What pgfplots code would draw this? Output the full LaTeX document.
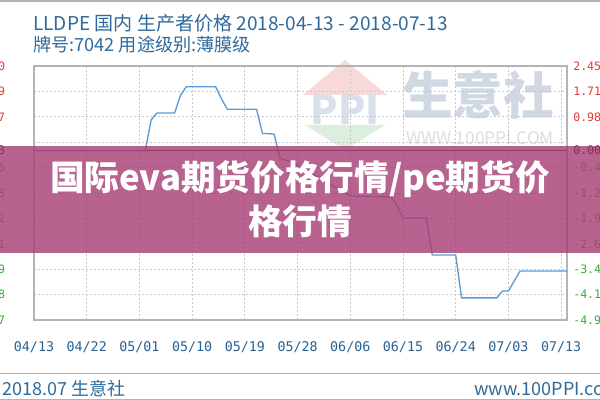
\documentclass[border=0pt]{standalone}
\usepackage{pgfplots}
\pgfplotsset{compat=1.18}
\usepackage{fontspec}
\setmainfont{Noto Sans CJK SC}
\newfontfamily\monofont{DejaVu Sans Mono}
\definecolor{tblue}{HTML}{2F6A9C}
\definecolor{lblue}{HTML}{2A6193}
\definecolor{framegray}{HTML}{B4B4B4}
\definecolor{gridgray}{HTML}{C8C8C8}
\definecolor{upred}{HTML}{E23B3B}
\definecolor{dngreen}{HTML}{3DAA3D}
\definecolor{serblue}{HTML}{5A9BD5}
\definecolor{banner}{HTML}{A73D73}
\definecolor{wmgray}{HTML}{D0D8E3}
\definecolor{wmppi}{HTML}{D9E0EC}
\definecolor{wmred}{HTML}{F7D9D9}
\definecolor{wmgreen}{HTML}{DCEFDF}

\pgfplotstableread{
x y
0 0
19 0
20 0.89
21 1.09
24 1.09
25 1.60
26 1.85
31 1.85
32 1.50
33 1.20
38 1.20
39 0.50
41 0.48
42 -0.22
44 -0.33
54 -1.31
61 -1.34
62 -1.60
63 -1.95
67 -1.95
68 -3.02
72 -3.02
73 -4.26
79 -4.26
80 -4.06
81 -4.06
83 -3.48
91 -3.48
}\pricedata

\begin{document}
\begin{tikzpicture}[x=0.75pt,y=0.75pt]
\useasboundingbox (0,0) rectangle (600,400);
\clip (0,0) rectangle (600,400);
\fill[white] (0,0) rectangle (600,400);

% header
\draw[framegray, line width=1.5pt] (0,399.2) -- (600,399.2);
\node[anchor=west, text=tblue, inner sep=0pt, font=\fontsize{14.3}{16}\selectfont] at (33,377) {LLDPE 国内 生产者价格 2018-04-13 - 2018-07-13};
\node[anchor=west, text=tblue, inner sep=0pt, font=\fontsize{13.6}{16}\selectfont] at (33,355) {牌号:7042 用途级别:薄膜级};

% watermark
\fill[wmred] (303,305) -- (345,340) -- (387,305) -- cycle;
\node[text=wmppi, font=\fontsize{30}{30}\selectfont\bfseries] at (345,290) {PPI};
\fill[wmgreen] (305,275) -- (385,275) -- (345,250) -- cycle;
\node[text=wmgray, font=\fontsize{38}{40}\selectfont\bfseries] at (478,305) {生意社};
\node[text=black!13, font=\fontsize{13}{13}\selectfont] at (480,262) {WWW.100PPI.COM};

\begin{axis}[
  at={(25.5pt,60pt)}, anchor=south west,
  scale only axis, width=399.75pt, height=190.5pt,
  xmin=0, xmax=91, ymin=-4.9, ymax=2.45,
  axis line style={draw=framegray, line width=0.8pt},
  major tick length=0pt,
  xtick={0,9,...,90},
  xticklabels={04/13,04/22,05/01,05/10,05/19,05/28,06/06,06/15,06/24,07/03,07/13},
  xticklabel style={font=\monofont\fontsize{10}{10}\selectfont, text=lblue, yshift=-13pt},
  ytick={-4.9,-4.165,-3.43,-2.695,-1.96,-1.225,-0.49,0,0.98,1.715,2.45},
  yticklabels={{\textcolor{dngreen}{-4.90}},{\textcolor{dngreen}{-4.16}},{\textcolor{dngreen}{-3.43}},{\textcolor{dngreen}{-2.69}},{\textcolor{dngreen}{-1.96}},{\textcolor{dngreen}{-1.22}},{\textcolor{dngreen}{-0.49}},{\textcolor{black}{0.00}},{\textcolor{upred}{0.98}},{\textcolor{upred}{1.71}},{\textcolor{upred}{2.45}}},
  yticklabel pos=right,
  yticklabel style={font=\monofont\fontsize{8.7}{9}\selectfont, anchor=west, inner sep=0pt, xshift=4.5pt},
  extra y ticks={0.245}, extra y tick labels={},
  extra y tick style={grid=major},
  grid=major,
  grid style={draw=gridgray, dash pattern=on 1.5pt off 1.5pt, line width=0.6pt},
  clip=false,
]
\addplot[black!80, line width=0.8pt, forget plot] coordinates {(0,0) (91,0)};
\addplot[serblue, line width=1pt, forget plot] table[x=x,y=y] {\pricedata};
\end{axis}

% left (clipped) price labels
\foreach \yy/\t/\c in {334/9790/upred,308.6/9719/upred,283.2/9647/upred,249.3/9553/black,232.4/9505/dngreen,207.0/9438/dngreen,181.6/9362/dngreen,156.2/9291/dngreen,130.8/9219/dngreen,105.4/9148/dngreen,80/9077/dngreen}{
  \node[anchor=east, inner sep=0pt, text=\c, font=\monofont\fontsize{8.7}{9}\selectfont] at (5.5,\yy) {\t};
}

% banner
\fill[banner, opacity=0.8] (0,147) rectangle (600,254);
\node[text=white, font=\fontsize{26}{30}\selectfont\bfseries] at (300,221) {国际eva期货价格行情/pe期货价};
\node[text=white, font=\fontsize{26}{30}\selectfont\bfseries] at (300,179) {格行情};

% footer
\draw[framegray, line width=1.2pt] (0,26.5) -- (600,26.5);
\node[anchor=west, text=tblue, inner sep=0pt, font=\fontsize{13.5}{15}\selectfont] at (2,11) {2018.07 生意社};
\node[anchor=west, text=tblue, inner sep=0pt, font=\fontsize{13.5}{15}\selectfont] at (474,11) {www.100PPI.com};
\draw[framegray, line width=1.2pt] (0,0.6) -- (600,0.6);
\end{tikzpicture}
\end{document}
